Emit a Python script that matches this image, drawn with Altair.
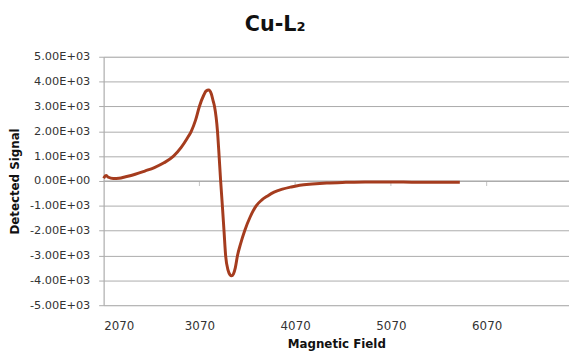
import altair as alt
import pandas as pd

field = [2070, 2095, 2120, 2170, 2230, 2300, 2400, 2500, 2600, 2700, 2800,
         2880, 2940, 2985, 3030, 3070, 3115, 3140, 3167, 3195, 3215, 3228,
         3259, 3276, 3292, 3310, 3327, 3344, 3370, 3390, 3406, 3425, 3445, 3468,
         3500, 3543, 3600, 3663, 3720, 3783, 3850, 3937, 4030, 4118, 4250, 4400,
         4600, 4800, 5000, 5200, 5400, 5600, 5790]
signal = [110, 220, 150, 100, 110, 170, 270, 400, 540, 730, 1000,
          1350, 1700, 2000, 2450, 3000, 3450, 3620, 3660, 3500, 3200, 3000,
          2000, 1000, 0, -1000, -2000, -3000, -3600, -3780, -3820, -3750, -3500, -3000,
          -2530, -2000, -1450, -1000, -770, -600, -450, -330, -240, -170, -120, -80,
          -55, -40, -40, -45, -50, -50, -55]

x_ticks = [2070, 3070, 4070, 5070, 6070]
y_ticks = [-5000, -4000, -3000, -2000, -1000, 0, 1000, 2000, 3000, 4000, 5000]
minor_tick_fields = [3070, 4070, 5070, 6070]

df = pd.DataFrame({"field": field, "signal": signal})
ticks_df = pd.DataFrame({"field": minor_tick_fields, "signal": [0] * len(minor_tick_fields)})
zero_df = pd.DataFrame({"signal": [0]})

FONT = "DejaVu Sans"
GRID = "#ababab"
TEXT = "#333333"

x_scale = alt.Scale(domain=[2070, 6930], nice=False, zero=False)
y_scale = alt.Scale(domain=[-5000, 5000], nice=False)

label_expr = ("datum.value == 0 ? '0.00E+00' : (datum.value < 0 ? '-' : '') + "
              "format(abs(datum.value) / 1000, '.2f') + 'E+03'")

line = alt.Chart(df).mark_line(color="#a53c1e", strokeWidth=3, interpolate="monotone").encode(
    x=alt.X("field:Q", scale=x_scale,
            axis=alt.Axis(title="Magnetic Field", values=x_ticks, format="d",
                          grid=False, domain=False, ticks=False, labelOverlap=False,
                          labelFont=FONT, labelFontSize=12, labelColor=TEXT,
                          labelBaseline="alphabetic", labelPadding=25,
                          titleFont=FONT, titleFontSize=12, titleFontWeight="bold",
                          titleColor="#111111", titleBaseline="alphabetic", titleY=43)),
    y=alt.Y("signal:Q", scale=y_scale,
            axis=alt.Axis(title="Detected Signal", values=y_ticks,
                          labelExpr=label_expr, labelOverlap=False,
                          grid=True, gridColor=GRID, gridWidth=1,
                          domain=True, domainColor=GRID, ticks=True, tickColor=GRID,
                          tickSize=5, labelPadding=9,
                          labelFont=FONT, labelFontSize=11.5, labelColor=TEXT,
                          titleFont=FONT, titleFontSize=12, titleFontWeight="bold",
                          titleColor="#111111", titleX=-90, titleY=126, titleAngle=270,
                          titleAlign="center", titleBaseline="middle")),
)

zero = alt.Chart(zero_df).mark_rule(color=GRID, strokeWidth=1).encode(
    y=alt.Y("signal:Q", scale=y_scale, axis=None)
)

ticks = alt.Chart(ticks_df).mark_tick(orient="vertical", size=5, thickness=1,
                                      yOffset=2.5, color=GRID).encode(
    x=alt.X("field:Q", scale=x_scale, axis=None),
    y=alt.Y("signal:Q", scale=y_scale, axis=None),
)

chart = alt.layer(zero, ticks, line).resolve_axis(
    x="independent", y="independent"
).properties(
    width=472, height=252,
    title=alt.TitleParams("Cu-L₂", font=FONT, fontSize=21, fontWeight="bold",
                          color="#111111", dx=-62, dy=-12),
    autosize=alt.AutoSizeParams(type="none"),
    padding={"left": 97, "top": 47, "right": 0, "bottom": 44},
).configure_view(strokeWidth=0).configure(background="white")

chart.save("out.html", embed_options={"renderer": "svg", "actions": False})
